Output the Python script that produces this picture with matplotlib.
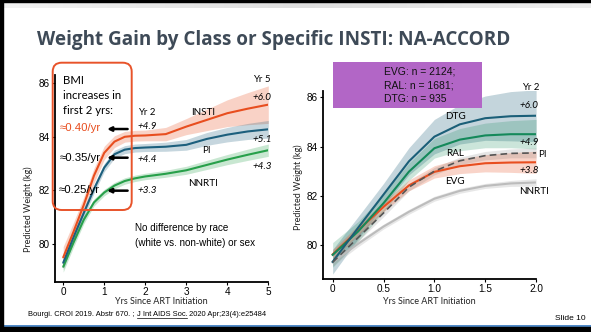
import matplotlib
matplotlib.use("Agg")
import matplotlib.pyplot as plt
import numpy as np
from matplotlib.patches import FancyBboxPatch, Rectangle
from matplotlib.lines import Line2D

# ---------------- data ----------------
left_x = [0, 0.25, 0.5, 0.75, 1.0, 1.25, 1.5, 1.75, 2.0, 2.5, 3.0, 3.5, 4.0, 4.5, 5.0]
left_insti = [79.5, 80.45, 81.45, 82.55, 83.4, 83.82, 84.0, 84.04, 84.05, 84.1, 84.38, 84.63, 84.88, 85.05, 85.2]
left_pi = [79.3, 80.25, 81.15, 82.05, 82.85, 83.35, 83.52, 83.58, 83.6, 83.63, 83.7, 83.92, 84.08, 84.2, 84.28]
left_nnrti = [79.15, 80.05, 80.9, 81.55, 81.92, 82.18, 82.35, 82.45, 82.52, 82.62, 82.75, 82.95, 83.15, 83.33, 83.5]
left_insti_ci = [0.4, 0.35, 0.3, 0.28, 0.25, 0.22, 0.2, 0.2, 0.2, 0.25, 0.3, 0.4, 0.5, 0.6, 0.7]
left_pi_ci = [0.25, 0.2, 0.18, 0.16, 0.15, 0.15, 0.15, 0.15, 0.15, 0.17, 0.2, 0.24, 0.27, 0.3, 0.33]
left_nnrti_ci = [0.2, 0.17, 0.15, 0.13, 0.12, 0.12, 0.12, 0.12, 0.12, 0.13, 0.15, 0.17, 0.19, 0.21, 0.23]

right_x = [0, 0.25, 0.5, 0.75, 1.0, 1.25, 1.5, 1.75, 2.0]
right_dtg = [79.32, 80.7, 82.05, 83.4, 84.4, 84.9, 85.15, 85.23, 85.25]
right_ral = [79.6, 80.55, 81.7, 82.98, 83.93, 84.28, 84.45, 84.5, 84.5]
right_evg = [79.62, 80.6, 81.55, 82.42, 82.97, 83.2, 83.32, 83.35, 83.36]
right_pi = [79.3, 80.3, 81.3, 82.35, 83.0, 83.42, 83.63, 83.72, 83.74]
right_nnrti = [79.3, 80.05, 80.75, 81.35, 81.88, 82.2, 82.4, 82.5, 82.54]
right_dtg_ci = [0.5, 0.45, 0.45, 0.55, 0.7, 0.8, 0.9, 1.0, 1.05]
right_ral_ci = [0.5, 0.4, 0.35, 0.35, 0.4, 0.45, 0.5, 0.55, 0.6]
right_evg_ci = [0.2, 0.2, 0.2, 0.22, 0.25, 0.3, 0.35, 0.4, 0.45]
right_pi_ci = [0.15, 0.15, 0.15, 0.15, 0.15, 0.15, 0.17, 0.18, 0.2]
right_nnrti_ci = [0.15, 0.12, 0.1, 0.1, 0.1, 0.1, 0.1, 0.12, 0.15]

left_xticks = [0, 1, 2, 3, 4, 5]
left_yticks = [80, 82, 84, 86]
right_xticks = [0, 0.5, 1.0, 1.5, 2.0]
right_xticklabels = ["0", "0.5", "1.0", "1.5", "2.0"]
right_yticks = [80, 82, 84, 86]

title = "Weight Gain by Class or Specific INSTI: NA-ACCORD"
xlabel = "Yrs Since ART Initiation"
ylabel = "Predicted Weight (kg)"

# ---------------- figure ----------------
W, H = 591, 332
fig = plt.figure(figsize=(W / 100, H / 100), dpi=100)
fig.patch.set_facecolor("white")

def fxy(px, py):
    return px / W, 1 - py / H

def T(px, py, s, ha="left", va="center", **kw):
    x, y = fxy(px, py)
    return fig.text(x, y, s, ha=ha, va=va, **kw)

RED = "#e84e1f"
TEAL = "#1c5f7d"
GREEN = "#27a04a"
DTGC = "#1b5f78"
RALC = "#14895a"
PIC = "#555555"
NNC = "#bcbcbc"
CAL = "Lato"
ARI = "Liberation Sans"

# border decorations
fig.patches.append(Rectangle((0, 0), 3 / W, 1, transform=fig.transFigure, color="black", zorder=10))
fig.patches.append(Rectangle((0, 1 - 2 / H), 1, 2 / H, transform=fig.transFigure, color="black", zorder=10))
grad = np.linspace(0, 1, 256).reshape(1, -1)
gax = fig.add_axes([3 / W, 1 - 8 / H, 1 - 3 / W, 6 / H])
gax.imshow(grad, aspect="auto", cmap=matplotlib.colors.LinearSegmentedColormap.from_list("g", ["#f2f2f2", "#dedede", "#eeeeee"]))
gax.axis("off")
fig.patches.append(Rectangle((0, 0), 1, 5 / H, transform=fig.transFigure, color="black", zorder=10))
fig.lines.append(Line2D([3 / W, 1], [1 - 326 / H] * 2, transform=fig.transFigure, color="#3f7fc4", lw=1.3, zorder=10))

# title
t = T(37, 40, title, fontsize=12, weight="bold", family="Open Sans", color="#3e4a57")
fig.canvas.draw()
r = fig.canvas.get_renderer()
bb = t.get_window_extent(r)
t.set_fontsize(12 * 471 / bb.width)

def style_axes(ax):
    for s in ["top", "right"]:
        ax.spines[s].set_visible(False)
    for s in ["left", "bottom"]:
        ax.spines[s].set_linewidth(1.3)
        ax.spines[s].set_color("black")
    ax.tick_params(axis="both", length=2.5, width=0.8, labelsize=7.2, pad=1.2)
    for lab in ax.get_xticklabels() + ax.get_yticklabels():
        lab.set_family(ARI)
    ax.set_facecolor("none")

# ---------------- left axes ----------------
ax1 = fig.add_axes([55 / W, 1 - 281.7 / H, 213.3 / W, 206.7 / H])
ax1.set_xlim(-0.2, 5)
ax1.set_ylim(78.593, 86.306)
lx = np.array(left_x)
for y, ci, c in [(left_insti, left_insti_ci, RED), (left_pi, left_pi_ci, TEAL), (left_nnrti, left_nnrti_ci, GREEN)]:
    y = np.array(y); ci = np.array(ci)
    ax1.fill_between(lx, y - ci, y + ci, color=c, alpha=0.25, lw=0)
for y, c in [(left_nnrti, GREEN), (left_pi, TEAL), (left_insti, RED)]:
    ax1.plot(lx, y, color=c, lw=1.5, solid_capstyle="round", solid_joinstyle="round")
ax1.set_xticks(left_xticks)
ax1.set_yticks(left_yticks)
style_axes(ax1)

# arrows
for yv in [84.29, 83.22, 81.99]:
    ax1.annotate("", xy=(1.07, yv), xytext=(1.57, yv),
                 arrowprops=dict(arrowstyle="-|>", color="black", lw=1.8,
                                 mutation_scale=6, shrinkA=0, shrinkB=0))

# rounded box
fig.patches.append(FancyBboxPatch((52.7 / 100, (H - 210) / 100), 79 / 100, 147.3 / 100,
                                  boxstyle="round,pad=0,rounding_size=0.09",
                                  transform=fig.dpi_scale_trans, fill=False,
                                  edgecolor="#e8532a", lw=1.4, zorder=5))

T(62.7, 80.7, "BMI", fontsize=8.2, family=CAL)
T(62.7, 95.3, "increases in", fontsize=8.2, family=CAL)
T(62.7, 110, "first 2 yrs:", fontsize=8.2, family=CAL)
T(59.5, 128.3, "≈0.40/yr", fontsize=8.2, family=ARI, color=RED)
T(59.5, 157.7, "≈0.35/yr", fontsize=8.2, family=ARI)
T(58.5, 190, "≈0.25/yr", fontsize=8.2, family=ARI)

T(138.3, 112.3, "Yr 2", fontsize=6.9, family=CAL)
T(137.3, 126.7, "+4.9", fontsize=7.1, family=CAL, style="italic")
T(137.3, 159, "+4.4", fontsize=7.1, family=CAL, style="italic")
T(137.3, 190.7, "+3.3", fontsize=7.1, family=CAL, style="italic")
T(253.3, 80, "Yr 5", fontsize=6.9, family=CAL)
T(252.3, 97.3, "+6.0", fontsize=7.1, family=CAL, style="italic")
T(252.3, 140, "+5.1", fontsize=7.1, family=CAL, style="italic")
T(252.3, 166.7, "+4.3", fontsize=7.1, family=CAL, style="italic")
T(203.3, 112.7, "INSTI", ha="center", fontsize=7.1, family=CAL)
T(206.7, 150, "PI", ha="center", fontsize=7.1, family=CAL)
T(203.3, 184, "NNRTI", ha="center", fontsize=7.1, family=CAL)
T(135, 228.3, "No difference by race", fontsize=7.1, family=ARI)
T(135, 242.7, "(white vs. non-white) or sex", fontsize=7.1, family=ARI)

T(161, 301, xlabel, ha="center", fontsize=6.5, family=CAL, color="#222222")
T(28.3, 209, ylabel, ha="center", rotation=90, fontsize=6.5, family=CAL, color="#222222")

# ---------------- right axes ----------------
ax2 = fig.add_axes([322.5 / W, 1 - 279 / H, 213.6 / W, 187.9 / H])
ax2.set_xlim(-0.1, 2.0)
ax2.set_ylim(78.62, 86.25)
rx = np.array(right_x)
for y, ci, c, a in [(right_dtg, right_dtg_ci, DTGC, 0.26), (right_ral, right_ral_ci, RALC, 0.22),
                    (right_evg, right_evg_ci, RED, 0.24), (right_pi, right_pi_ci, PIC, 0.15),
                    (right_nnrti, right_nnrti_ci, NNC, 0.35)]:
    y = np.array(y); ci = np.array(ci)
    ax2.fill_between(rx, y - ci, y + ci, color=c, alpha=a, lw=0)
ax2.plot(rx, right_nnrti, color=NNC, lw=1.5, solid_joinstyle="round")
ax2.plot(rx, right_evg, color=RED, lw=1.5, solid_joinstyle="round")
ax2.plot(rx, right_ral, color=RALC, lw=1.5, solid_joinstyle="round")
ax2.plot(rx, right_dtg, color=DTGC, lw=1.5, solid_joinstyle="round")
ax2.plot(rx, right_pi, color=PIC, lw=1.2, ls=(0, (4, 2.5)))
ax2.set_xticks(right_xticks)
ax2.set_xticklabels(right_xticklabels)
ax2.set_yticks(right_yticks)
style_axes(ax2)

# purple box
fig.patches.append(Rectangle(fxy(333.3, 108.3), 148.4 / W, 46 / H, transform=fig.transFigure,
                             facecolor="#b266c6", edgecolor="none", zorder=5))
T(383.5, 71.7, "EVG: n = 2124;", fontsize=7.5, family=ARI, zorder=6, color="#111111")
T(383.5, 85.5, "RAL: n = 1681;", fontsize=7.5, family=ARI, zorder=6, color="#111111")
T(383.5, 99.3, "DTG: n = 935", fontsize=7.5, family=ARI, zorder=6, color="#111111")

T(521.7, 87.3, "Yr 2", fontsize=6.9, family=CAL)
T(520, 105.7, "+6.0", fontsize=7.1, family=CAL, style="italic")
T(520, 142.3, "+4.9", fontsize=7.1, family=CAL, style="italic")
T(538.3, 154.3, "PI", fontsize=7.1, family=CAL)
T(520, 170.7, "+3.8", fontsize=7.1, family=CAL, style="italic")
T(519.3, 191.7, "NNRTI", fontsize=7.1, family=CAL)
T(455.3, 116.7, "DTG", ha="center", fontsize=7.1, family=CAL)
T(455.3, 153.3, "RAL", ha="center", fontsize=7.1, family=CAL)
T(455.3, 181, "EVG", ha="center", fontsize=7.1, family=CAL)

T(429, 301.7, xlabel, ha="center", fontsize=6.5, family=CAL, color="#222222")
T(298, 187, ylabel, ha="center", rotation=90, fontsize=6.5, family=CAL, color="#222222")

# footnote with underline
fs = 5.4
p1 = T(28, 314, "Bourgi. CROI 2019. Abstr 670. ; ", fontsize=fs, family=ARI)
fig.canvas.draw()
b1 = p1.get_window_extent(r)
x2 = b1.x1
p2 = fig.text(x2 / W, 1 - 314 / H, "J Int AIDS Soc.", fontsize=fs, family=ARI, va="center")
fig.canvas.draw()
b2 = p2.get_window_extent(r)
fig.lines.append(Line2D([b2.x0 / W, b2.x1 / W], [(b2.y0 - 0.3) / H] * 2, transform=fig.transFigure,
                        color="black", lw=0.5))
fig.text(b2.x1 / W, 1 - 314 / H, " 2020 Apr;23(4):e25484", fontsize=fs, family=ARI, va="center")

T(586, 319, "Slide 10", ha="right", fontsize=6, family=ARI)

fig.savefig("out.png", dpi=100, facecolor="white")
